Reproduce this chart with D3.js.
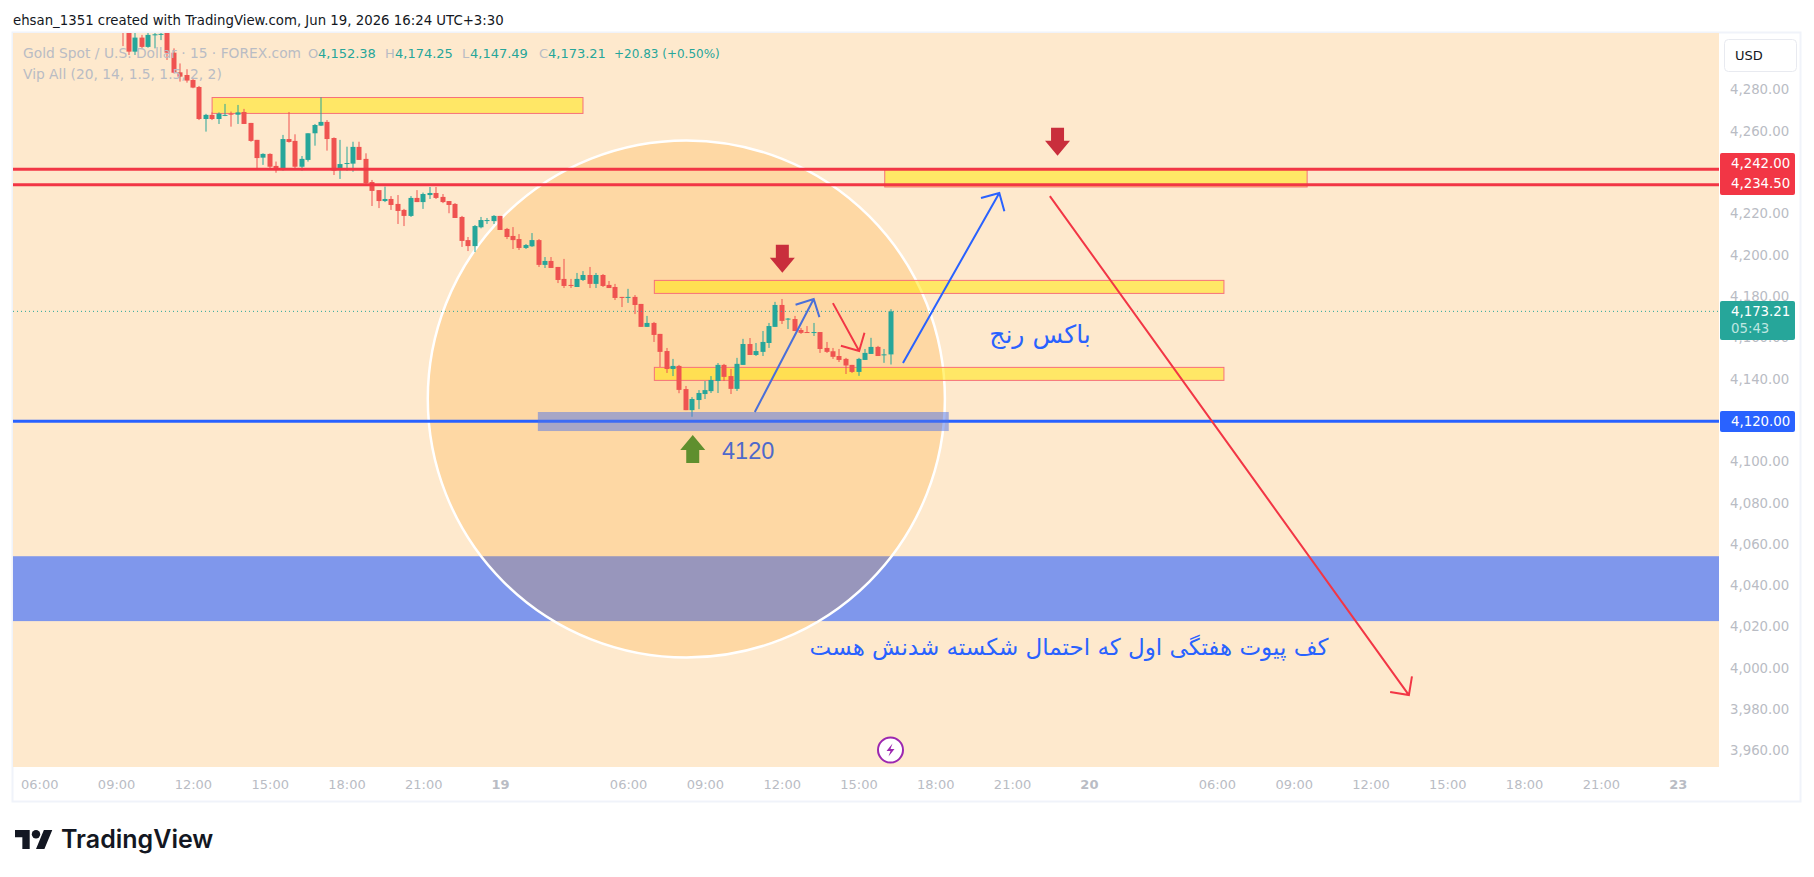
<!DOCTYPE html>
<html>
<head>
<meta charset="utf-8">
<script src="https://cdn.jsdelivr.net/npm/d3@7"></script>
<style>
  html, body { margin: 0; padding: 0; background: #fff; overflow: hidden; }
  text { font-family: "DejaVu Sans", sans-serif; }
</style>
</head>
<body>
<svg id="chart" width="1814" height="877"></svg>
<script>
"use strict";

// 15 minute candles, first one sits at bar number firstBar (bar 0 = 18 Jun 06:00)
var firstBar = 13;
var opens = [4312,4312,4298.9,4305.7,4301.2,4306.8,4307.1,4308.5,4298.4,4288.9,4287.6,4285.2,4281.8,4266.3,4268.3,4266.3,4267.9,4268.9,4268.4,4269.7,4264.4,4256.2,4247.6,4249.4,4243.6,4241.6,4256.6,4255.7,4243.2,4246.5,4259.4,4263.1,4264.9,4257.1,4241.6,4244.7,4244.7,4252.8,4247.0,
  4235.8,4231.9,4226.6,4227.6,4225.2,4222.3,4219.4,4228.1,4226.1,4229.5,4230.5,4228.6,4226.6,4225.2,4218.9,4207.7,4204.8,4213.9,4216.9,4216.9,4219.4,4213.1,4209.7,4208.2,4203.9,4204.7,4207.7,4195.7,4197.6,4194.7,4188.9,4186.0,4185.0,4188.4,4190.8,4186.5,
  4190.8,4186.0,4185.0,4180.2,4179.7,4180.2,4176.8,4165.7,4167.6,4162.3,4154.0,4145.3,4146.8,4135.6,4125.4,4130.3,4133.2,4134.6,4139.5,4147.3,4141.9,4135.7,4147.3,4157.4,4152.1,4153.6,4157.9,4165.7,4176.3,4169.4,4169.5,4164.2,4163.2,4162.9,4163.2,4155.5,4153.9,4151.6,4150.2,4147.3,4143.9,4149.7,4152.6,4156.0,4152.1,4152.38];
var highs = [4315,4314,4309,4307,4309,4310,4310,4310,4300.5,4293.2,4290.4,4285.6,4282.3,4268.8,4269.5,4269.5,4273.6,4269.9,4273.1,4271.2,4264.4,4256.2,4249.7,4249.7,4245.7,4258.6,4269.7,4258.9,4248.4,4259.4,4263.9,4276.8,4265.8,4257.4,4256.2,4252.9,4255.3,4255.3,4249.7,
  4236.8,4231.9,4233.6,4229.0,4229.5,4222.8,4229.0,4231.9,4230.7,4233.4,4233.4,4230.0,4226.6,4225.6,4219.4,4209.2,4215.0,4218.9,4218.4,4219.8,4219.4,4213.6,4214.0,4210.6,4205.8,4211.1,4208.2,4199.5,4199.5,4194.7,4198.6,4188.9,4191.8,4192.7,4194.7,4191.8,
  4191.3,4187.9,4186.5,4180.2,4184.1,4181.1,4176.8,4171.0,4168.1,4162.3,4155.5,4150.2,4147.3,4137.1,4131.7,4135.1,4139.5,4141.9,4148.2,4147.8,4145.3,4150.7,4159.9,4160.3,4157.9,4163.7,4167.6,4177.8,4179.2,4170.0,4171.0,4165.2,4166.1,4167.6,4163.2,4158.4,4155.5,4155.0,4150.7,4147.3,4150.7,4155.0,4160.4,4156.5,4155.0,4174.25];
var lows = [4301.6,4297.3,4297.3,4300.5,4300.8,4300.5,4304.5,4294.9,4288.4,4284.4,4283.9,4281.2,4265.8,4260.2,4265.8,4263.9,4267.7,4262.6,4263.9,4263.9,4255.3,4241.6,4244.1,4242.4,4240.3,4241.3,4254.9,4241.6,4241.3,4245.7,4253.4,4262.9,4251.0,4239.2,4237.3,4241.3,4240.8,4246.5,4234.9,
  4224.2,4223.2,4226.1,4222.3,4215.5,4214.5,4218.9,4226.1,4222.8,4227.6,4227.6,4225.6,4220.7,4218.4,4204.4,4202.4,4201.9,4213.4,4215.5,4215.5,4212.6,4208.2,4203.4,4202.9,4203.4,4204.4,4194.7,4194.2,4194.2,4186.9,4184.5,4184.5,4185.0,4187.9,4184.5,4184.5,
  4185.0,4184.5,4178.7,4175.3,4177.3,4171.9,4165.7,4165.7,4158.4,4146.3,4143.4,4141.9,4133.6,4125.4,4122.2,4125.9,4130.8,4133.7,4133.7,4139.5,4133.2,4134.7,4147.3,4152.1,4151.6,4151.6,4155.5,4165.7,4167.1,4164.7,4163.7,4162.3,4162.8,4161.3,4153.1,4153.1,4150.2,4148.7,4142.9,4143.4,4142.0,4149.7,4152.6,4151.6,4148.3,4147.49];
var closes = [4309,4298.9,4305.7,4301.2,4307.0,4307.3,4307.5,4298.4,4288.7,4286.8,4284.9,4281.5,4266.3,4268.3,4266.3,4268.9,4268.3,4268.4,4269.5,4263.9,4255.7,4247.4,4249.4,4243.2,4241.6,4256.6,4255.2,4243.2,4247.0,4259.4,4263.4,4264.9,4256.6,4241.3,4244.5,4245.0,4252.8,4246.5,4235.2,
  4231.5,4226.6,4227.6,4224.7,4221.8,4219.4,4228.1,4226.1,4230.0,4230.5,4228.1,4226.1,4224.7,4218.4,4207.3,4204.8,4214.5,4217.4,4217.4,4219.4,4212.6,4209.2,4207.7,4203.9,4205.3,4207.7,4195.7,4197.6,4194.2,4188.4,4185.5,4185.5,4188.9,4190.8,4186.5,4190.8,
  4185.5,4184.5,4179.7,4179.9,4180.2,4176.3,4165.7,4167.6,4161.8,4153.6,4145.3,4146.8,4135.2,4125.4,4130.8,4133.7,4135.1,4140.0,4147.3,4141.5,4135.7,4147.8,4157.4,4152.1,4154.0,4158.4,4166.1,4176.3,4168.6,4169.7,4163.7,4162.8,4162.9,4163.2,4155.0,4153.6,4151.2,4149.7,4147.0,4143.9,4150.2,4153.1,4156.0,4151.6,4152.4,4173.21];

// 4,240 and 4,120 are left out, the price tags cover them
var priceTicks = [4280,4260,4220,4200,4180,4160,4140,4100,4080,4060,4040,4020,4000,3980,3960];
var timeBars = [0,12,24,36,48,60,72,92,104,116,128,140,152,164,184,196,208,220,232,244,256];
var timeLabels = ["06:00","09:00","12:00","15:00","18:00","21:00","19","06:00","09:00","12:00","15:00","18:00","21:00","20","06:00","09:00","12:00","15:00","18:00","21:00","23"];
var dayLabels = ["19","20","23"];

// drawings, in bars and prices
var supplyBoxes = [
  {from: 27, to: 84.95, top: 4276.7, bottom: 4269.0},
  {from: 132.1, to: 198.1, top: 4242.0, bottom: 4233.4},
  {from: 96.1, to: 185.1, top: 4188.2, bottom: 4181.9},
  {from: 96.1, to: 185.1, top: 4146.1, bottom: 4139.8}
];
var supportBox = {from: 77.9, to: 142.1, top: 4124.5, bottom: 4115.3};
var pivotBand = {top: 4054.7, bottom: 4023.3};
var circle = {bar: 101.1, price: 4130.8, edgeBar: 141.5};
var redLevels = [4242, 4234.5];
var blueLevel = 4120;
var lastPrice = 4173.21;
var lineArrows = [
  {bar1: 111.8, price1: 4124.5, bar2: 121.0, price2: 4179.2, color: "#4a6fd8"},
  {bar1: 134.95, price1: 4148.2, bar2: 150.0, price2: 4230.5, color: "#2962ff"},
  {bar1: 124.0, price1: 4177.2, bar2: 128.1, price2: 4154.0, color: "#f23645"},
  {bar1: 157.9, price1: 4229.0, bar2: 214.0, price2: 3987.5, color: "#f23645"}
];
var markers = [
  {bar: 159.1, price: 4248.5, dir: "down"},
  {bar: 116.1, price: 4191.9, dir: "down"},
  {bar: 102.1, price: 4113.4, dir: "up"}
];

var plot = {left: 13, right: 1719, top: 33, bottom: 767};
var x = d3.scaleLinear().domain([0, 256]).range([39.3, 39.3 + 6.4 * 256]);
var y = d3.scaleLinear().domain([4280, 3960]).range([90.7, 751.9]);

var fmt = d3.format(",.2f");
var svg = d3.select("#chart");

svg.append("defs").append("clipPath").attr("id", "plotClip")
  .append("rect")
  .attr("x", plot.left).attr("y", plot.top)
  .attr("width", plot.right - plot.left).attr("height", plot.bottom - plot.top);

// frame
svg.append("rect")
  .attr("x", 12.5).attr("y", 32.5).attr("width", 1788).attr("height", 769)
  .attr("fill", "#fff").attr("stroke", "#f0f3fa").attr("stroke-width", 2);
svg.append("rect")
  .attr("x", plot.left).attr("y", plot.top)
  .attr("width", plot.right - plot.left).attr("height", plot.bottom - plot.top)
  .attr("fill", "#fee9cd");

var g = svg.append("g").attr("clip-path", "url(#plotClip)");

// zones under the candles
g.append("rect")
  .attr("x", plot.left).attr("width", plot.right - plot.left)
  .attr("y", y(pivotBand.top)).attr("height", y(pivotBand.bottom) - y(pivotBand.top))
  .attr("fill", "#7f97ec");
g.append("circle")
  .attr("cx", x(circle.bar)).attr("cy", y(circle.price))
  .attr("r", x(circle.edgeBar) - x(circle.bar))
  .attr("fill", "#ff9800").attr("fill-opacity", 0.2)
  .attr("stroke", "#fff").attr("stroke-width", 2.5);

g.selectAll("rect.box").data(supplyBoxes).enter().append("rect")
  .attr("class", "box")
  .attr("x", function(d) { return x(d.from); })
  .attr("width", function(d) { return x(d.to) - x(d.from); })
  .attr("y", function(d) { return y(d.top); })
  .attr("height", function(d) { return y(d.bottom) - y(d.top); })
  .attr("fill", "#ffe600").attr("fill-opacity", 0.5)
  .attr("stroke", "#f7707a").attr("stroke-width", 1);

// candles
var candleData = opens.map(function(o, i) {
  return {bar: firstBar + i, o: o, h: highs[i], l: lows[i], c: closes[i]};
});
var candles = g.selectAll("g.candle").data(candleData).enter().append("g")
  .attr("class", "candle")
  .attr("fill", function(d) { return d.c >= d.o ? "#26a69a" : "#ef5350"; });
candles.append("rect")
  .attr("x", function(d) { return Math.round(x(d.bar)) - 0.5; })
  .attr("width", 1)
  .attr("y", function(d) { return y(d.h); })
  .attr("height", function(d) { return y(d.l) - y(d.h); });
candles.append("rect")
  .attr("x", function(d) { return Math.round(x(d.bar)) - 2.5; })
  .attr("width", 5)
  .attr("y", function(d) { return y(Math.max(d.o, d.c)); })
  .attr("height", function(d) { return Math.max(1, Math.abs(y(d.o) - y(d.c))); });

// level lines
g.append("line")
  .attr("x1", plot.left).attr("x2", plot.right)
  .attr("y1", y(lastPrice)).attr("y2", y(lastPrice))
  .attr("stroke", "#26a69a").attr("stroke-dasharray", "1 3");
g.selectAll("line.red").data(redLevels).enter().append("line")
  .attr("class", "red")
  .attr("x1", plot.left).attr("x2", plot.right)
  .attr("y1", function(d) { return y(d); }).attr("y2", function(d) { return y(d); })
  .attr("stroke", "#f23645").attr("stroke-width", 3);
g.append("line")
  .attr("x1", plot.left).attr("x2", plot.right)
  .attr("y1", y(blueLevel)).attr("y2", y(blueLevel))
  .attr("stroke", "#2962ff").attr("stroke-width", 3);
g.append("rect")
  .attr("x", x(supportBox.from)).attr("width", x(supportBox.to) - x(supportBox.from))
  .attr("y", y(supportBox.top)).attr("height", y(supportBox.bottom) - y(supportBox.top))
  .attr("fill", "#5073e8").attr("fill-opacity", 0.5);

// trend arrows
lineArrows.forEach(function(a) {
  var x1 = x(a.bar1), y1 = y(a.price1), x2 = x(a.bar2), y2 = y(a.price2);
  var angle = Math.atan2(y1 - y2, x1 - x2), head = 19, spread = Math.PI / 4;
  var path = d3.path();
  path.moveTo(x1, y1);
  path.lineTo(x2, y2);
  path.moveTo(x2 + head * Math.cos(angle - spread), y2 + head * Math.sin(angle - spread));
  path.lineTo(x2, y2);
  path.lineTo(x2 + head * Math.cos(angle + spread), y2 + head * Math.sin(angle + spread));
  g.append("path").attr("d", path.toString())
    .attr("fill", "none").attr("stroke", a.color).attr("stroke-width", 2);
});

// block arrows, the price is the tip
markers.forEach(function(m) {
  var s = m.dir === "down" ? -1 : 1;
  var px = x(m.bar), py = y(m.price);
  g.append("path")
    .attr("d", d3.line()([[px, py], [px + 12.5, py + 15 * s], [px + 6.5, py + 15 * s], [px + 6.5, py + 28 * s],
      [px - 6.5, py + 28 * s], [px - 6.5, py + 15 * s], [px - 12.5, py + 15 * s]]) + "Z")
    .attr("fill", m.dir === "down" ? "#c92e3c" : "#5f8f2e");
});

// notes
g.append("text").attr("x", 722).attr("y", 459)
  .attr("font-size", 23.5).attr("fill", "#4e69cb").style("font-family", "Liberation Sans").text("4120");
g.append("text").attr("x", 1040).attr("y", 343).attr("text-anchor", "middle")
  .attr("font-size", 25).attr("fill", "#2962ff").text("باکس رنج");
g.append("text").attr("x", 1069).attr("y", 655).attr("text-anchor", "middle")
  .attr("font-size", 23).attr("fill", "#2962ff").text("کف پیوت هفتگی اول که احتمال شکسته شدنش هست");

// legend
var legendGrey = "#b9bcc4", legendGreen = "#26a69a";
var legendRow = [
  {x: 23, t: "Gold Spot / U.S. Dollar · 15 · FOREX.com", c: legendGrey, s: 13.8},
  {x: 308, t: "O", c: legendGrey, s: 13}, {x: 318, t: "4,152.38", c: legendGreen, s: 13},
  {x: 385, t: "H", c: legendGrey, s: 13}, {x: 395, t: "4,174.25", c: legendGreen, s: 13},
  {x: 462, t: "L", c: legendGrey, s: 13}, {x: 470, t: "4,147.49", c: legendGreen, s: 13},
  {x: 539, t: "C", c: legendGrey, s: 13}, {x: 548, t: "4,173.21", c: legendGreen, s: 13},
  {x: 614, t: "+20.83 (+0.50%)", c: legendGreen, s: 12}
];
svg.selectAll("text.legend").data(legendRow).enter().append("text")
  .attr("class", "legend")
  .attr("x", function(d) { return d.x; }).attr("y", 58)
  .attr("font-size", function(d) { return d.s; }).attr("fill", function(d) { return d.c; })
  .text(function(d) { return d.t; });
svg.append("text").attr("x", 23).attr("y", 79).attr("font-size", 13.8).attr("fill", legendGrey)
  .text("Vip All (20, 14, 1.5, 1.5, 2, 2)");

svg.append("text").attr("x", 13).attr("y", 25).attr("font-size", 13.3).attr("fill", "#131722")
  .text("ehsan_1351 created with TradingView.com, Jun 19, 2026 16:24 UTC+3:30");

// axes
var axisColor = "#b9bcc4";
var yAxis = svg.append("g").attr("transform", "translate(1730,-1.2)")
  .call(d3.axisRight(y).tickValues(priceTicks).tickSize(0).tickPadding(0).tickFormat(fmt));
yAxis.select(".domain").remove();
yAxis.selectAll("text").attr("font-size", 13.3).attr("fill", axisColor).attr("font-family", "DejaVu Sans");

var xAxis = svg.append("g").attr("transform", "translate(0,784)")
  .call(d3.axisBottom(x).tickValues(timeBars).tickSize(0).tickPadding(0)
    .tickFormat(function(d, i) { return timeLabels[i]; }));
xAxis.select(".domain").remove();
xAxis.selectAll("text")
  .attr("dy", "0.35em").attr("y", 0)
  .attr("font-size", 13).attr("fill", axisColor).attr("font-family", "DejaVu Sans")
  .attr("font-weight", function(d, i) { return dayLabels.indexOf(timeLabels[i]) >= 0 ? 700 : 400; });

// USD button
svg.append("rect").attr("x", 1724.5).attr("y", 39.5).attr("width", 72).attr("height", 32).attr("rx", 4)
  .attr("fill", "#fff").attr("stroke", "#e8eaf0");
svg.append("text").attr("x", 1735).attr("y", 60).attr("font-size", 13).attr("fill", "#131722").text("USD");

// price tags
function priceTag(top, bottom, color) {
  svg.append("rect").attr("x", 1720).attr("y", top).attr("width", 75).attr("height", bottom - top)
    .attr("rx", 2).attr("fill", color);
}
function tagText(yPos, label, color) {
  svg.append("text").attr("x", 1731).attr("y", yPos).attr("dy", "0.35em")
    .attr("font-size", 13.3).attr("fill", color || "#fff").text(label);
}
priceTag(153, 195, "#f23645");
tagText(163, fmt(redLevels[0]));
tagText(183, fmt(redLevels[1]));
priceTag(301, 340, "#26a69a");
tagText(311, fmt(lastPrice));
tagText(328, "05:43", "#bfe6e1");
priceTag(411, 432, "#2962ff");
tagText(421, fmt(blueLevel));

// news icon
var icon = svg.append("g").attr("transform", "translate(" + x(133) + ",750)");
icon.append("circle").attr("r", 12.5).attr("fill", "#fff").attr("stroke", "#9c27b0").attr("stroke-width", 2);
icon.append("path").attr("d", "M2-6.5L-4 1H0L-2 6.5L4-1H0Z").attr("fill", "#9c27b0");

// logo
var logo = svg.append("g").attr("transform", "translate(15,825.8) scale(1.05)").attr("fill", "#131722");
logo.append("path").attr("d", "M14 22H7V11H0V4h14v18zM28 22h-8l7.5-18h8L28 22z");
logo.append("circle").attr("cx", 20).attr("cy", 8).attr("r", 4);
svg.append("text").attr("x", 61).attr("y", 848).attr("font-size", 25).attr("font-weight", 600)
  .style("font-family", "Inter").attr("fill", "#131722").text("TradingView");
</script>
</body>
</html>
